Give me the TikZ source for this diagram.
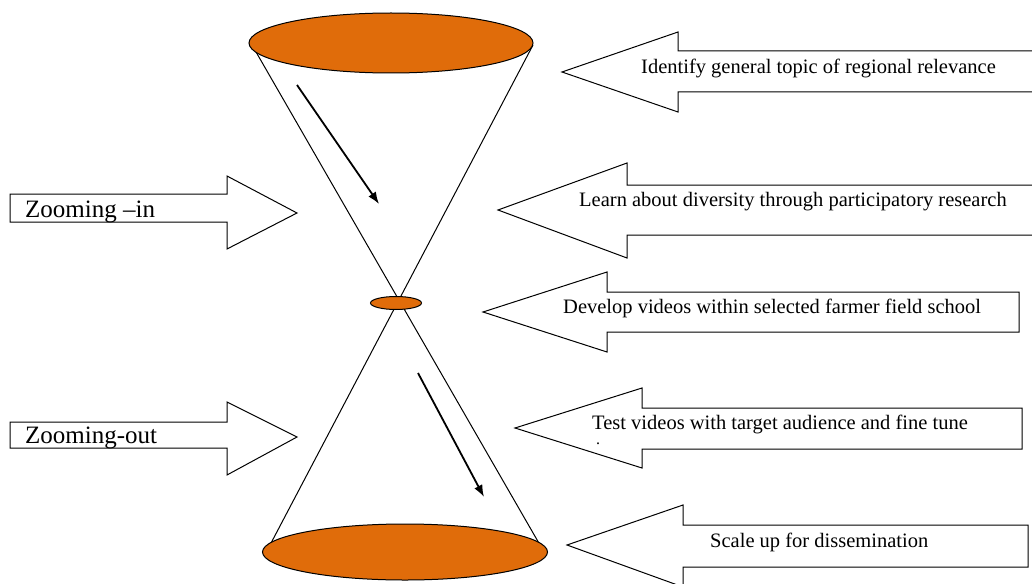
\documentclass[tikz,border=0pt]{standalone}
\usepackage{fontspec}
\setmainfont{Liberation Serif}
\newfontfamily\tnr{Liberation Serif}
\usetikzlibrary{arrows.meta,shapes.geometric}
\definecolor{conefill}{RGB}{224,108,10}
\tikzset{
  blockarrow/.style={draw=black, line width=1pt, fill=white, line join=miter},
  disc/.style={ellipse, draw=black, line width=1pt, fill=conefill, inner sep=0pt},
  coneline/.style={draw=black, line width=1pt},
  flowarrow/.style={draw=black, line width=1.8pt, -{Latex[length=12pt,width=9pt]}},
  lbl/.style={anchor=west, inner sep=0pt, font=\tnr\fontsize{20.5}{22}\selectfont},
  biglbl/.style={anchor=west, inner sep=0pt, font=\tnr\fontsize{25}{27}\selectfont}
}
\begin{document}
\begin{tikzpicture}[x=1pt,y=-1pt]
\useasboundingbox (0,0) rectangle (1032,583);
\begin{scope}
\clip (0,0) rectangle (1032,583);
% cone lines
\coordinate (tl) at (252,45);
\coordinate (tr) at (533,45);
\coordinate (bl) at (270,545);
\coordinate (br) at (540,545);
\draw[coneline] (tl) -- (br);
\draw[coneline] (tr) -- (bl);
% discs
\node[disc, minimum width=284pt, minimum height=60pt] (top) at (391,43) {};
\node[disc, minimum width=285pt, minimum height=56pt] (bottom) at (405,552) {};
\node[disc, minimum width=51pt, minimum height=13pt] (mid) at (396,303) {};
% flow arrows
\coordinate (a1s) at (297,85);
\coordinate (a1e) at (379,204);
\coordinate (a2s) at (418,373);
\coordinate (a2e) at (484,497);
\draw[flowarrow] (a1s) -- (a1e);
\draw[flowarrow] (a2s) -- (a2e);
% right-pointing block arrows
\draw[blockarrow] (10,194) -- (227,194) -- (227,176) -- (297,213) -- (227,249) -- (227,222) -- (10,222) -- cycle;
\node[biglbl] (zin) at (25,212) {Zooming –in};
\draw[blockarrow] (10,422) -- (227,422) -- (227,402) -- (297,437) -- (227,475) -- (227,448) -- (10,448) -- cycle;
\node[biglbl] (zout) at (25,438) {Zooming-out};
% left-pointing block arrows
\draw[blockarrow] (562,72) -- (678,32) -- (678,51) -- (1045,51) -- (1045,92) -- (678,92) -- (678,112) -- cycle;
\node[lbl] (s1) at (641,68) {Identify general topic of regional relevance};
\draw[blockarrow] (498,210) -- (627,163) -- (627,185) -- (1045,185) -- (1045,235) -- (627,235) -- (627,258) -- cycle;
\node[lbl] (s2) at (579,202) {Learn about diversity through participatory research};
\draw[blockarrow] (483,312) -- (607,272) -- (607,292) -- (1019,292) -- (1019,332) -- (607,332) -- (607,352) -- cycle;
\node[lbl] (s3) at (563,308) {Develop videos within selected farmer field school};
\draw[blockarrow] (515,428) -- (642,388) -- (642,408) -- (1022,408) -- (1022,449) -- (642,449) -- (642,468) -- cycle;
\node[lbl] (s4) at (592,424) {Test videos with target audience and fine tune};
\node[lbl, font=\tnr\fontsize{16}{16}\selectfont] (s4b) at (596,444) {.};
\draw[blockarrow] (567,545) -- (683,505) -- (683,525) -- (1028,525) -- (1028,567) -- (683,567) -- (683,587) -- cycle;
\node[lbl] (s5) at (710,542) {Scale up for dissemination};
\end{scope}
\end{tikzpicture}
\end{document}
